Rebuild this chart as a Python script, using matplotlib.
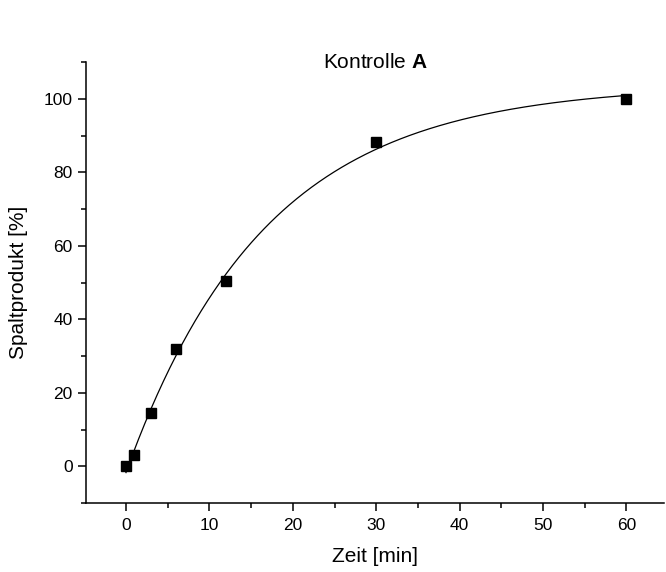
import numpy as np
import matplotlib
matplotlib.use("Agg")
import matplotlib.pyplot as plt
from matplotlib.ticker import MultipleLocator

plt.rcParams['font.family'] = ['Liberation Sans', 'DejaVu Sans']
plt.rcParams['mathtext.fontset'] = 'custom'
plt.rcParams['mathtext.rm'] = 'Liberation Sans'
plt.rcParams['mathtext.bf'] = 'Liberation Sans:bold'

# Data
time_min = np.array([0, 1, 3, 6, 12, 30, 60], dtype=float)
product_pct = np.array([0.0, 3.0, 14.4, 31.9, 50.4, 88.2, 100.0])

# Least-squares fit: y = y0 + A*(1 - exp(-t/tau))
best = None
for tau in np.linspace(5, 40, 3501):
    X = np.column_stack([np.ones_like(time_min), 1 - np.exp(-time_min / tau)])
    coef, *_ = np.linalg.lstsq(X, product_pct, rcond=None)
    res = np.sum((X @ coef - product_pct) ** 2)
    if best is None or res < best[0]:
        best = (res, tau, coef)
_, tau_fit, (y0_fit, A_fit) = best
t_fit = np.linspace(time_min.min(), time_min.max(), 400)
y_fit = y0_fit + A_fit * (1 - np.exp(-t_fit / tau_fit))

fig = plt.figure(figsize=(6.66, 5.72), dpi=100)
ax = fig.add_axes([0.129, 0.1206, 0.868, 0.771])

ax.plot(t_fit, y_fit, color='black', lw=0.9)
ax.plot(time_min, product_pct, 's', color='black', markersize=7.5, zorder=3)

ax.set_xlim(-4.8, 64.5)
ax.set_ylim(-10, 110)
ax.xaxis.set_major_locator(MultipleLocator(10))
ax.xaxis.set_minor_locator(MultipleLocator(5))
ax.yaxis.set_major_locator(MultipleLocator(20))
ax.yaxis.set_minor_locator(MultipleLocator(10))
ax.set_xticks(np.arange(0, 61, 10))
ax.set_yticks(np.arange(0, 101, 20))

for s in ['top', 'right']:
    ax.spines[s].set_visible(False)
for s in ['left', 'bottom']:
    ax.spines[s].set_linewidth(1.1)

ax.tick_params(which='major', direction='out', length=6, width=1.1, labelsize=12.5)
ax.tick_params(which='minor', direction='out', length=3.6, width=1.1)
ax.tick_params(axis='x', which='major', pad=5)
ax.tick_params(axis='y', which='major', pad=3.5)

ax.set_xlabel('Zeit [min]', fontsize=15, labelpad=10)
ax.set_ylabel('Spaltprodukt [%]', fontsize=15, labelpad=11)

ax.text(0.5, 0.998, 'Kontrolle $\\mathbf{A}$', transform=ax.transAxes,
        ha='center', va='center', fontsize=15)

fig.savefig('out.png', dpi=100)
